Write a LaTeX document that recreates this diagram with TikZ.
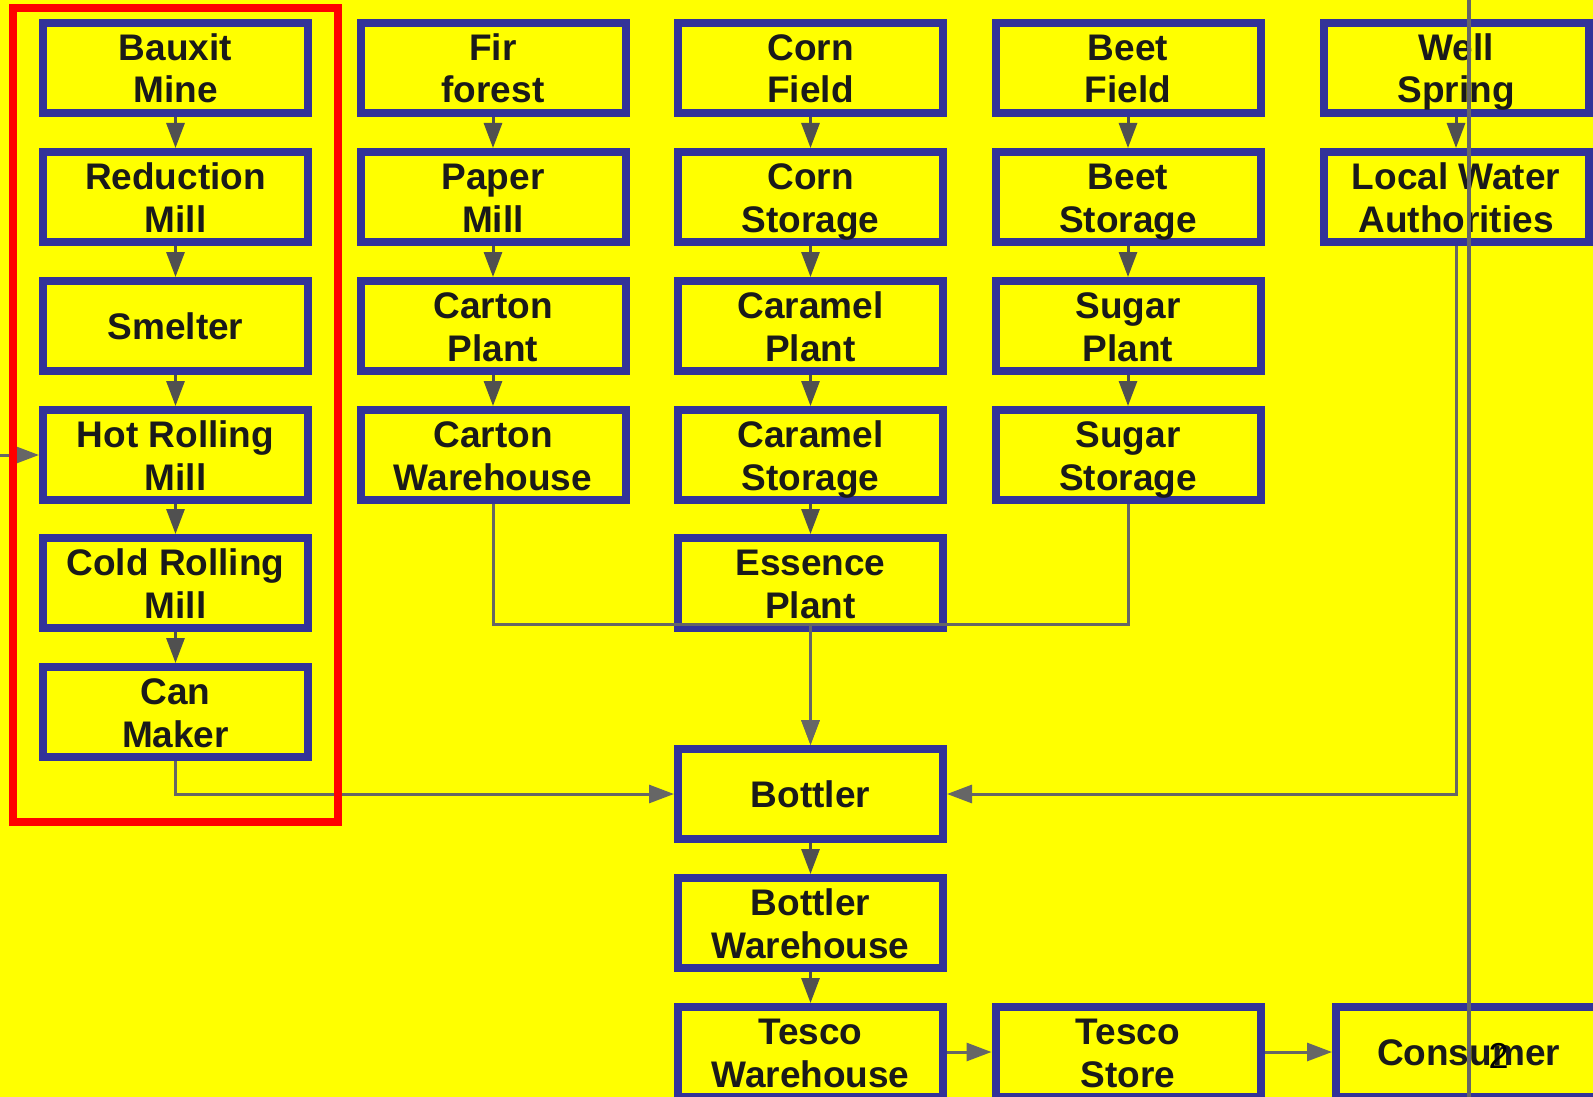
\documentclass[tikz,border=0pt]{standalone}
\usepackage{fontspec}
\setmainfont{Liberation Sans}
\usetikzlibrary{arrows.meta}
\definecolor{bg}{RGB}{255,255,0}
\definecolor{boxblue}{RGB}{51,51,153}
\definecolor{txt}{RGB}{26,26,26}
\definecolor{arrgray}{RGB}{80,80,80}
\definecolor{linegray}{RGB}{102,102,102}
\newcommand\boxstrut{\rule[-8pt]{0pt}{43pt}}
\begin{document}
\begin{tikzpicture}[x=1pt,y=-1pt,
  box/.style={draw=boxblue, line width=8pt, fill=bg, minimum width=265pt, minimum height=90pt,
    inner sep=0pt, align=center, font=\bfseries\fontsize{37}{43}\selectfont, text=txt},
  arr/.style={draw=arrgray, line width=3pt, -{Triangle[length=25pt,width=18pt]}},
  larr/.style={draw=linegray, line width=3pt, -{Triangle[length=25pt,width=18pt]}},
  conn/.style={draw=linegray, line width=3pt},
  frame/.style={draw=red, line width=7.5pt},
  vline/.style={draw=linegray, line width=4pt}]
\fill[bg] (0,0) rectangle (1593,1097);
\useasboundingbox (0,0) rectangle (1593,1097);
% column 1
\node[box] (bauxit) at (175.5,68) {Bauxit\boxstrut\\Mine\boxstrut};
\node[box] (reduction) at (175.5,197) {Reduction\boxstrut\\Mill\boxstrut};
\node[box] (smelter) at (175.5,326) {Smelter\boxstrut};
\node[box] (hot) at (175.5,455) {Hot Rolling\boxstrut\\Mill\boxstrut};
\node[box] (cold) at (175.5,583) {Cold Rolling\boxstrut\\Mill\boxstrut};
\node[box] (can) at (175.5,712) {Can\boxstrut\\Maker\boxstrut};
% column 2
\node[box] (fir) at (493,68) {Fir\boxstrut\\forest\boxstrut};
\node[box] (paper) at (493,197) {Paper\boxstrut\\Mill\boxstrut};
\node[box] (carton) at (493,326) {Carton\boxstrut\\Plant\boxstrut};
\node[box] (cartonwh) at (493,455) {Carton\boxstrut\\Warehouse\boxstrut};
% column 3
\node[box] (corn) at (810.5,68) {Corn\boxstrut\\Field\boxstrut};
\node[box] (cornst) at (810.5,197) {Corn\boxstrut\\Storage\boxstrut};
\node[box] (caramel) at (810.5,326) {Caramel\boxstrut\\Plant\boxstrut};
\node[box] (caramelst) at (810.5,455) {Caramel\boxstrut\\Storage\boxstrut};
\node[box] (essence) at (810.5,583) {Essence\boxstrut\\Plant\boxstrut};
\node[box] (bottler) at (810.5,794) {Bottler\boxstrut};
\node[box] (bottlerwh) at (810.5,923) {Bottler\boxstrut\\Warehouse\boxstrut};
\node[box] (tescowh) at (810.5,1052) {Tesco\boxstrut\\Warehouse\boxstrut};
% column 4
\node[box] (beet) at (1128,68) {Beet\boxstrut\\Field\boxstrut};
\node[box] (beetst) at (1128,197) {Beet\boxstrut\\Storage\boxstrut};
\node[box] (sugar) at (1128,326) {Sugar\boxstrut\\Plant\boxstrut};
\node[box] (sugarst) at (1128,455) {Sugar\boxstrut\\Storage\boxstrut};
\node[box] (tescost) at (1128,1052) {Tesco\boxstrut\\Store\boxstrut};
% column 5
\node[box] (well) at (1456,68) {Well\boxstrut\\Spring\boxstrut};
\node[box] (water) at (1456,197) {Local Water\boxstrut\\Authorities\boxstrut};
\node[box] (consumer) at (1468.5,1052) {Consumer\boxstrut};
\node[anchor=base, font=\fontsize{36}{43}\selectfont, text=black, inner sep=0pt] (two) at (1498.5,1068) {2};
% vertical arrows
\draw[arr] (bauxit) -- (reduction);
\draw[arr] (reduction) -- (smelter);
\draw[arr] (smelter) -- (hot);
\draw[arr] (hot) -- (cold);
\draw[arr] (cold) -- (can);
\draw[arr] (fir) -- (paper);
\draw[arr] (paper) -- (carton);
\draw[arr] (carton) -- (cartonwh);
\draw[arr] (corn) -- (cornst);
\draw[arr] (cornst) -- (caramel);
\draw[arr] (caramel) -- (caramelst);
\draw[arr] (caramelst) -- (essence);
\draw[arr] (beet) -- (beetst);
\draw[arr] (beetst) -- (sugar);
\draw[arr] (sugar) -- (sugarst);
\draw[arr] (well) -- (water);
\draw[arr] (bottler) -- (bottlerwh);
\draw[arr] (bottlerwh) -- (tescowh);
% routed connectors
\coordinate (merge) at (810.5,624);
\coordinate (leftin) at (-10,455);
\draw[conn] (cartonwh.south) |- (merge);
\draw[conn] (sugarst.south) |- (merge);
\draw[larr] (merge) -- (bottler.north);
\draw[larr] (essence) -- (bottler);
\draw[larr] (can.south) |- (bottler.west);
\draw[larr] (water.south) |- (bottler.east);
\draw[larr] (tescowh) -- (tescost);
\draw[larr] (tescost.east) -- (consumer.west);
\draw[larr] (leftin) -- (hot.west);
% red frame
\draw[frame] (13,8) rectangle (338,822);
% vertical line
\coordinate (vtop) at (1468.7,-5);
\coordinate (vbot) at (1468.7,1105);
\draw[vline] (vtop) -- (vbot);
\end{tikzpicture}
\end{document}
